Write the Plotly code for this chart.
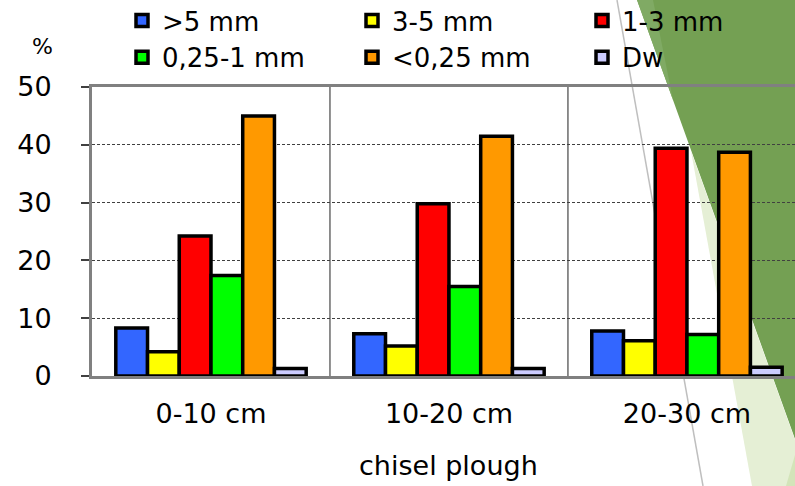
import plotly.graph_objects as go

# ---- data ----
categories = ["0-10 cm", "10-20 cm", "20-30 cm"]
series_names = [">5 mm", "3-5 mm", "1-3 mm", "0,25-1 mm", "<0,25 mm", "Dw"]
gt5 = [8.3, 7.3, 7.8]
s3_5 = [4.2, 5.2, 6.1]
s1_3 = [24.2, 29.8, 39.4]
s025_1 = [17.4, 15.5, 7.2]
lt025 = [45.0, 41.5, 38.7]
dw = [1.3, 1.3, 1.5]
series_values = [gt5, s3_5, s1_3, s025_1, lt025, dw]
colors = ["#3366FF", "#FFFF00", "#FF0000", "#00FF00", "#FF9900", "#CCCCFF"]
y_ticks = [0, 10, 20, 30, 40, 50]

W, H = 795, 486
ML, MR, MT, MB = 92, 0, 87, 110
PW = W - ML - MR
PH = H - MT - MB
FONT = "DejaVu Sans"


def px(x):
    return (x - ML) / PW


def py(y):
    return (H - MB - y) / PH


fig = go.Figure()
for name, vals, col in zip(series_names, series_values, colors):
    fig.add_trace(go.Bar(
        x=categories, y=vals, name=name,
        marker=dict(color=col, line=dict(color="black", width=3.5)),
    ))


def poly(points):
    d = "M " + " L ".join(f"{px(a):.5f},{py(b):.5f}" for a, b in points) + " Z"
    return d


shapes = []
# slide decoration (background)
shapes.append(dict(type="path", xref="paper", yref="paper", layer="below",
                   path=poly([(637, 0), (800, 0), (800, 441), (795, 441), (637 + 0.36 * 441, 441)]),
                   fillcolor="#74A053", line=dict(width=0)))
shapes.append(dict(type="path", xref="paper", yref="paper", layer="below",
                   path=poly([(637, 0), (653, 0), (673, 100)]),
                   fillcolor="#80AA64", line=dict(width=0)))
shapes.append(dict(type="path", xref="paper", yref="paper", layer="below",
                   path=poly([(691, 151), (795, 440), (795, 486), (752, 486)]),
                   fillcolor="#E5EFD5", line=dict(width=0)))
shapes.append(dict(type="path", xref="paper", yref="paper", layer="below",
                   path=poly([(795, 455), (786, 486), (795, 486)]),
                   fillcolor="#D3E4B9", line=dict(width=0)))
shapes.append(dict(type="line", xref="paper", yref="paper", layer="below",
                   x0=px(617), y0=py(0), x1=px(703), y1=py(486),
                   line=dict(color="#BFBFBF", width=1.5)))
# category separators
for b in [0.5, 1.5]:
    shapes.append(dict(type="line", xref="x", yref="paper", layer="below",
                       x0=b, x1=b, y0=0, y1=1,
                       line=dict(color="#202020", width=1)))

fig.update_layout(
    width=W, height=H,
    margin=dict(l=ML, r=MR, t=MT, b=MB, autoexpand=False),
    paper_bgcolor="white", plot_bgcolor="rgba(0,0,0,0)",
    barmode="group", bargap=0.2, bargroupgap=0,
    font=dict(family=FONT, size=27, color="black"),
    shapes=shapes,
    legend=dict(orientation="h", x=px(122), xanchor="left", y=py(-3), yanchor="top",
                entrywidth=185, entrywidthmode="pixels",
                font=dict(family=FONT, size=26, color="black"),
                bgcolor="rgba(0,0,0,0)", traceorder="normal",
                itemclick=False, tracegroupgap=0),
    annotations=[
        dict(text="%", xref="paper", yref="paper", x=px(42), y=py(46),
             xanchor="center", yanchor="middle", showarrow=False,
             font=dict(family=FONT, size=22, color="black")),
        dict(text="chisel plough", xref="x", yref="paper", x=1, y=py(465),
             xanchor="center", yanchor="middle", showarrow=False,
             font=dict(family=FONT, size=27, color="black")),
    ],
)
fig.update_xaxes(
    range=[-0.5, 2.454], showgrid=False, showline=True, linecolor="#808080",
    linewidth=2.5, mirror=True, ticks="", ticklabelstandoff=12,
    tickfont=dict(family=FONT, size=27, color="black"),
)
fig.update_yaxes(
    range=[0, 50], tickvals=y_ticks, showgrid=True, gridcolor="#404040",
    griddash="3px,2px", gridwidth=1, zeroline=False,
    showline=True, linecolor="#808080", linewidth=3,
    ticks="outside", ticklen=8, tickcolor="#404040", tickwidth=1.5,
    ticklabelstandoff=24,
    tickfont=dict(family=FONT, size=27, color="black"),
)

fig.write_html("out.html")
